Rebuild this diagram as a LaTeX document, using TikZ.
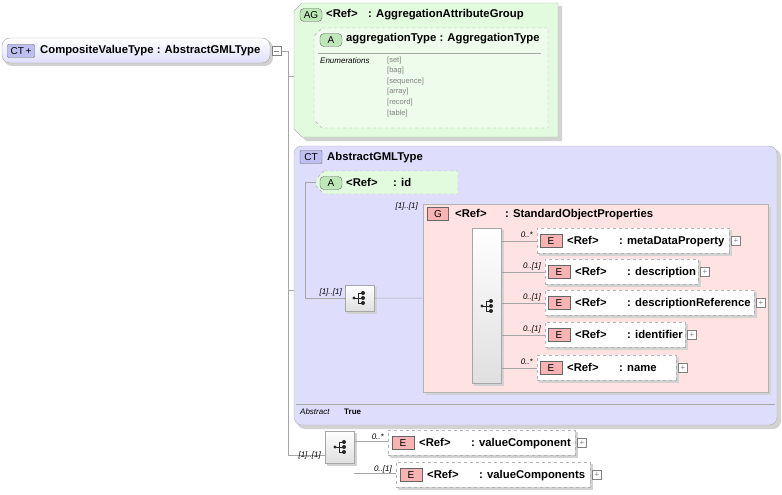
\documentclass[tikz,border=0pt]{standalone}
\usepackage{fontspec}
\setmainfont{Liberation Sans}
\usetikzlibrary{positioning,arrows.meta}

\definecolor{agfill}{RGB}{226,250,222}
\definecolor{ctfill}{RGB}{222,222,252}
\definecolor{gfill}{RGB}{255,226,226}
\definecolor{efill}{RGB}{248,180,180}
\definecolor{afill}{RGB}{190,232,184}
\definecolor{cticon}{RGB}{190,190,240}

\tikzset{
    lbl/.style={anchor=west,inner sep=0,text height=8pt,text depth=2pt,font=\fontsize{11.3}{12}\selectfont\bfseries},
    mult/.style={anchor=east,inner sep=0,font=\fontsize{8}{9}\selectfont\itshape},
    enum/.style={anchor=west,inner sep=0,font=\fontsize{7.5}{8}\selectfont,text=gray},
    icon/.style={draw=gray!80!black,rounded corners=1pt,minimum height=13pt,minimum width=20pt,inner sep=0,font=\fontsize{10}{10}\selectfont},
    elem/.style={draw=gray!60,dashed,fill=white,minimum height=25pt,anchor=north west,inner sep=0},
    shadow/.style={fill=gray!35,draw=none},
    seq/.style={draw=gray!70,top color=white,bottom color=gray!25,inner sep=0,anchor=north west},
    plus/.style={draw=gray,fill=white,minimum size=9pt,inner sep=0,font=\fontsize{8}{8}\selectfont,text=gray},
    conn/.style={draw=gray!70,line width=0.6pt},
    seqsym/.pic={
        \fill[gray!30!black] (-6,0) circle (1.7);
        \draw[gray!30!black,line width=0.8pt] (-6,0) -- (-2,0) (-2,-5) -- (-2,5) (-2,-5) -- (3,-5) (-2,0) -- (3,0) (-2,5) -- (3,5);
        \foreach \yy in {-5,0,5} \fill[gray!30!black] (3,\yy) circle (2);
    }
}

\begin{document}
\begin{tikzpicture}[x=1pt,y=-1pt]
    \useasboundingbox (0,0) rectangle (782,495);
    % Root complex type
    \fill[shadow,rounded corners=8pt] (4,40) rectangle (273,66);
    \draw[gray!70,top color=white,bottom color=ctfill,rounded corners=8pt] (2,38) rectangle (270,63);
    \node[icon,fill=cticon,minimum width=27pt] (rooticon) at (21,51) {CT\,+};
    \node[lbl] (root) at (40,51) {CompositeValueType : AbstractGMLType};
    \node[draw=gray,fill=white,minimum size=9pt,inner sep=0] (rootminus) at (277,51) {};
    \draw[gray] (rootminus.west) ++(2,0) -- ++(5,0);
    % Tree lines
    \coordinate (trunk) at (288,51);
    \draw[conn] (rootminus.east) -- (trunk) -- (288,455);
    \draw[conn] (288,76) -- (294,76);
    \draw[conn] (288,290) -- (294,290);

    % Attribute group
    \fill[shadow] (304,6) -- (562,6) -- (562,141) -- (306,141) -- (298,133) -- (298,14) -- cycle;
    \draw[gray!60,fill=agfill] (302,3) -- (558,3) -- (558,137) -- (302,137) -- (294,129) -- (294,11) -- cycle;
    \node[icon,fill=afill,minimum width=22pt,rounded corners=4pt] (agicon) at (311,15) {AG};
    \node[lbl] (agref) at (326,15) {<Ref>};
    \node[lbl] (agname) at (368,15) {: AggregationAttributeGroup};
    \draw[gray!60,dashed,fill=agfill!60!white] (322,28) -- (548,28) -- (548,128) -- (322,128) -- (314,120) -- (314,36) -- cycle;
    \node[icon,fill=afill,minimum width=22pt,rounded corners=4pt] (aicon) at (331,40) {A};
    \node[lbl] (attname) at (346,39) {aggregationType : AggregationType};
    \draw[gray!70] (318,53) -- (541,53);
    \node[anchor=west,inner sep=0,font=\fontsize{8}{9}\selectfont\itshape] (enumlbl) at (320,61) {Enumerations};
    \node[enum] (e1) at (387,61) {[set]};
    \node[enum] (e2) at (387,71) {[bag]};
    \node[enum] (e3) at (387,82) {[sequence]};
    \node[enum] (e4) at (387,92) {[array]};
    \node[enum] (e5) at (387,103) {[record]};
    \node[enum] (e6) at (387,114) {[table]};

    % Base type
    \fill[shadow,rounded corners=8pt] (297,149) rectangle (781,429);
    \draw[gray!60,fill=ctfill,rounded corners=8pt] (294,146) rectangle (777,425);
    \node[icon,fill=cticon,minimum width=22pt] (cticon) at (311,157) {CT};
    \node[lbl] (ctname) at (327,157) {AbstractGMLType};
    \draw[gray!70] (296,404) -- (775,404);
    \node[anchor=west,inner sep=0,font=\fontsize{8}{9}\selectfont\itshape] (abslbl) at (300,412) {Abstract};
    \node[anchor=west,inner sep=0,font=\fontsize{8}{9}\selectfont\bfseries] (absval) at (344,412) {True};
    \draw[conn] (305,182) -- (305,298) -- (345,298);
    \draw[conn] (305,182) -- (316,182);
    % id attribute
    \draw[gray!60,dashed,fill=agfill] (324,171) -- (458,171) -- (458,194) -- (324,194) -- (316,186) -- (316,179) -- cycle;
    \node[icon,fill=afill,minimum width=22pt,rounded corners=4pt] (idicon) at (331,183) {A};
    \node[lbl] (idref) at (346,183) {<Ref>};
    \node[lbl] (idname) at (393,183) {: id};
    % sequence
    \fill[shadow] (347,287) rectangle (377,314);
    \node[seq,minimum width=29pt,minimum height=26pt] (seqa) at (345,285) {};
    \pic at (360,298) {seqsym};
    \node[mult] (ma) at (342,292) {[1]..[1]};
    \draw[conn] (seqa.east) -- (472,298);
    \node[mult] (mb) at (469,297) {[1]..[1]};

    % Group
    \fill[shadow] (426,207) rectangle (771,395);
    \draw[gray!60,fill=gfill] (423,204) rectangle (768,392);
    \node[mult] (mg) at (418,206) {[1]..[1]};
    \node[icon,fill=efill,minimum width=21pt,rounded corners=0pt] (gicon) at (438,214) {G};
    \node[lbl] (gref) at (455,214) {<Ref>};
    \node[lbl] (gname) at (505,214) {: StandardObjectProperties};
    \fill[shadow] (474,230) rectangle (504,386);
    \node[seq,minimum width=29pt,minimum height=155pt] (seqb) at (472,228) {};
    \pic at (488,306) {seqsym};
    % group children
    \foreach \y/\x/\w/\nm/\m [count=\i] in {
        228/537/192/{: metaDataProperty}/0..*,
        259/545/153/{: description}/0..[1],
        290/545/209/{: descriptionReference}/0..[1],
        322/545/140/{: identifier}/0..[1],
        355/537/139/{: name}/0..*}{
        \draw[conn] (501,\y+13) -- (\x,\y+13);
        \node[mult] (gm\i) at (\x-4,\y+7) {\m};
        \fill[shadow] (\x+2,\y+2) rectangle (\x+\w+3,\y+28);
        \node[elem,minimum width=\w pt] (ge\i) at (\x,\y) {};
        \node[icon,fill=efill,minimum width=22pt,rounded corners=0pt] (gei\i) at (\x+14,\y+13) {E};
        \node[lbl] (ger\i) at (\x+30,\y+13) {<Ref>};
        \node[lbl] (gen\i) at (\x+82,\y+13) {\nm};
        \node[plus] (gep\i) at (\x+\w+7,\y+13) {+};
    }

    % Content sequence
    \draw[conn] (288,455) -- (325,455);
    \node[mult] (mc) at (321,455) {[1]..[1]};
    \fill[shadow] (327,433) rectangle (357,466);
    \node[seq,minimum width=29pt,minimum height=32pt] (seqc) at (325,431) {};
    \pic at (341,447) {seqsym};
    \foreach \y/\x/\w/\nm/\m [count=\i] in {
        430/388/187/{: valueComponent}/0..*,
        462/396/194/{: valueComponents}/0..[1]}{
        \draw[conn] (354,\y+11) -- (\x,\y+11);
        \node[mult] (cm\i) at (\x-4,\y+7) {\m};
        \fill[shadow] (\x+2,\y+2) rectangle (\x+\w+3,\y+28);
        \node[elem,minimum width=\w pt] (ce\i) at (\x,\y) {};
        \node[icon,fill=efill,minimum width=22pt,rounded corners=0pt] (cei\i) at (\x+15,\y+13) {E};
        \node[lbl] (cer\i) at (\x+31,\y+13) {<Ref>};
        \node[lbl] (cen\i) at (\x+83,\y+13) {\nm};
        \node[plus] (cep\i) at (\x+\w+7,\y+13) {+};
    }
\end{tikzpicture}
\end{document}
